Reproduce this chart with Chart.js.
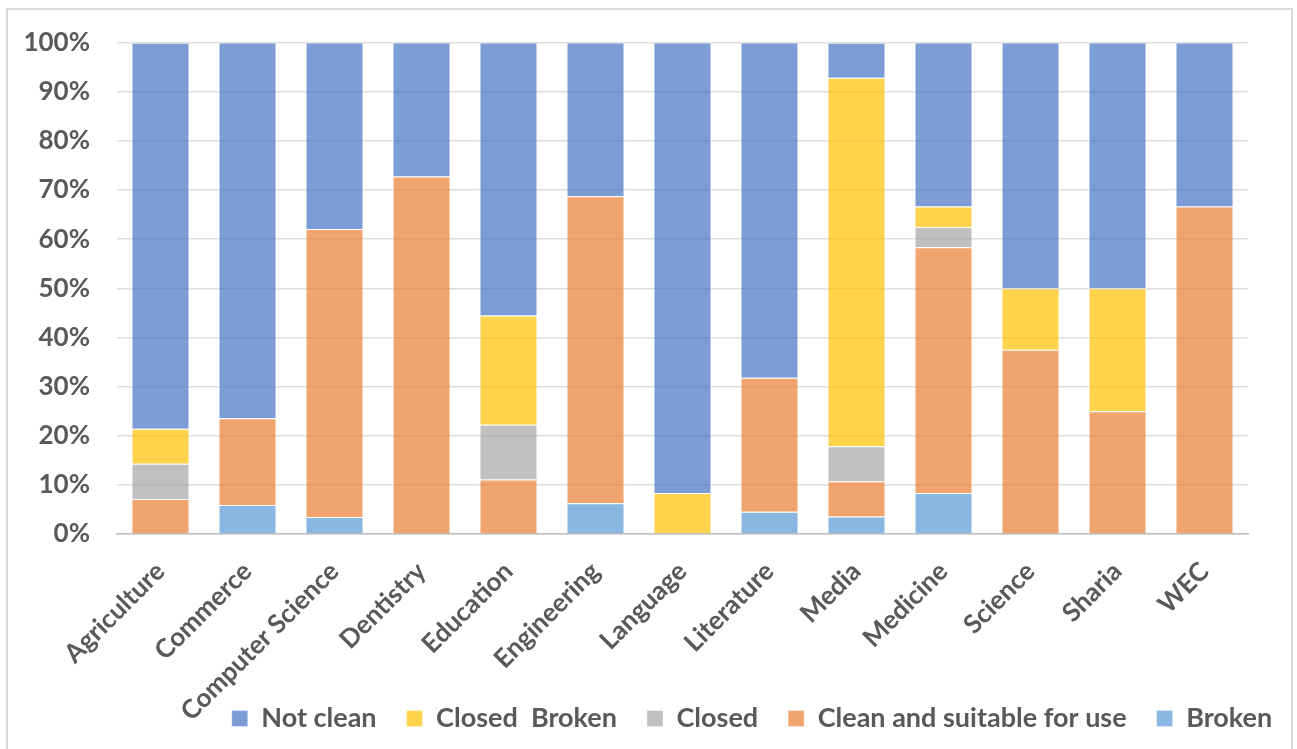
<!DOCTYPE html>
<html>
<head>
<meta charset="utf-8">
<script src="https://cdn.jsdelivr.net/npm/chart.js@4.4.1/dist/chart.umd.min.js"></script>
<style>
  html, body { margin: 0; padding: 0; background: #fff; overflow: hidden; }
  #frame { position: absolute; left: 6px; top: 8px; width: 1287px; height: 780px; border: 2px solid #D9D9D9; box-sizing: border-box; }
  #wrap { position: absolute; left: 0; top: 0; width: 1297px; height: 749px; }
</style>
</head>
<body>
<div id="frame"></div>
<div id="wrap"><canvas id="c" width="1297" height="749"></canvas></div>
<script>
// Faculties surveyed
const categories = ["Agriculture", "Commerce", "Computer Science", "Dentistry", "Education",
  "Engineering", "Language", "Literature", "Media", "Medicine", "Science", "Sharia", "WEC"];

// Share of facilities in each condition (%), stacked bottom to top
const broken        = [0,     5.88,  3.45,  0,     0,     6.25,  0,     4.55,  3.57,  8.33,  0,    0,  0];
const cleanSuitable = [7.14,  17.65, 58.62, 72.73, 11.11, 62.5,  0,     27.27, 7.14,  50,    37.5, 25, 66.67];
const closed        = [7.14,  0,     0,     0,     11.11, 0,     0,     0,     7.14,  4.17,  0,    0,  0];
const closedBroken  = [7.14,  0,     0,     0,     22.22, 0,     8.33,  0,     75,    4.17,  12.5, 25, 0];
const notClean      = [78.57, 76.47, 37.93, 27.27, 55.56, 31.25, 91.67, 68.18, 7.14,  33.33, 50,   50, 33.33];

// Axis ticks
const yTicks = [0, 10, 20, 30, 40, 50, 60, 70, 80, 90, 100];

const textColor = "#595959";
const fontFamily = "Lato, 'Open Sans', sans-serif";

const series = [
  { label: "Broken",                     data: broken,        color: "rgba(91,155,213,0.72)" },
  { label: "Clean and suitable for use", data: cleanSuitable, color: "rgba(237,125,49,0.70)" },
  { label: "Closed",                     data: closed,        color: "rgba(165,165,165,0.70)" },
  { label: "Closed  Broken",             data: closedBroken,  color: "rgba(255,192,0,0.70)" },
  { label: "Not clean",                  data: notClean,      color: "rgba(68,114,196,0.70)" }
];

// After layout: nudge the legend row right of centre, and let the
// rotated category labels run down past the axis box into the legend band.
const layoutTweaks = {
  id: "layoutTweaks",
  afterLayout(chart) {
    const lg = chart.legend;
    const dx = 118, dy = -7;
    lg.left += dx; lg.right += dx;
    lg.top += dy; lg.bottom += dy;
    chart.scales.x.bottom = chart.height;
  }
};

new Chart(document.getElementById("c"), {
  type: "bar",
  data: {
    labels: categories,
    datasets: series.map(s => ({
      label: s.label,
      data: s.data,
      backgroundColor: s.color,
      borderColor: "rgba(255,255,255,0.35)",
      borderWidth: 1,
      categoryPercentage: 1.0,
      barPercentage: 0.667
    }))
  },
  plugins: [layoutTweaks],
  options: {
    responsive: false,
    animation: false,
    layout: { padding: { top: 33, left: 20, right: 49, bottom: 0 } },
    plugins: {
      tooltip: { enabled: false },
      legend: {
        position: "bottom",
        reverse: true,
        labels: {
          color: textColor,
          font: { family: fontFamily, size: 27, weight: "bold" },
          boxWidth: 16,
          boxHeight: 16,
          padding: 30
        }
      }
    },
    scales: {
      x: {
        stacked: true,
        grid: { display: false },
        border: { display: true, color: "#BFBFBF", width: 1.5 },
        afterFit: (axis) => { axis.height = 148; },
        ticks: {
          color: textColor,
          font: { family: fontFamily, size: 26, weight: "bold" },
          minRotation: 45,
          maxRotation: 45,
          padding: 14
        }
      },
      y: {
        stacked: true,
        min: 0,
        max: 100,
        afterBuildTicks: (axis) => { axis.ticks = yTicks.map(v => ({ value: v })); },
        afterFit: (axis) => { axis.width = 97; },
        grid: { color: "#DEDEDE", lineWidth: 1.5, drawTicks: false },
        border: { display: false },
        ticks: {
          color: textColor,
          font: { family: fontFamily, size: 26, weight: "bold" },
          padding: 27,
          callback: (v) => v + "%"
        }
      }
    }
  }
});
</script>
</body>
</html>
